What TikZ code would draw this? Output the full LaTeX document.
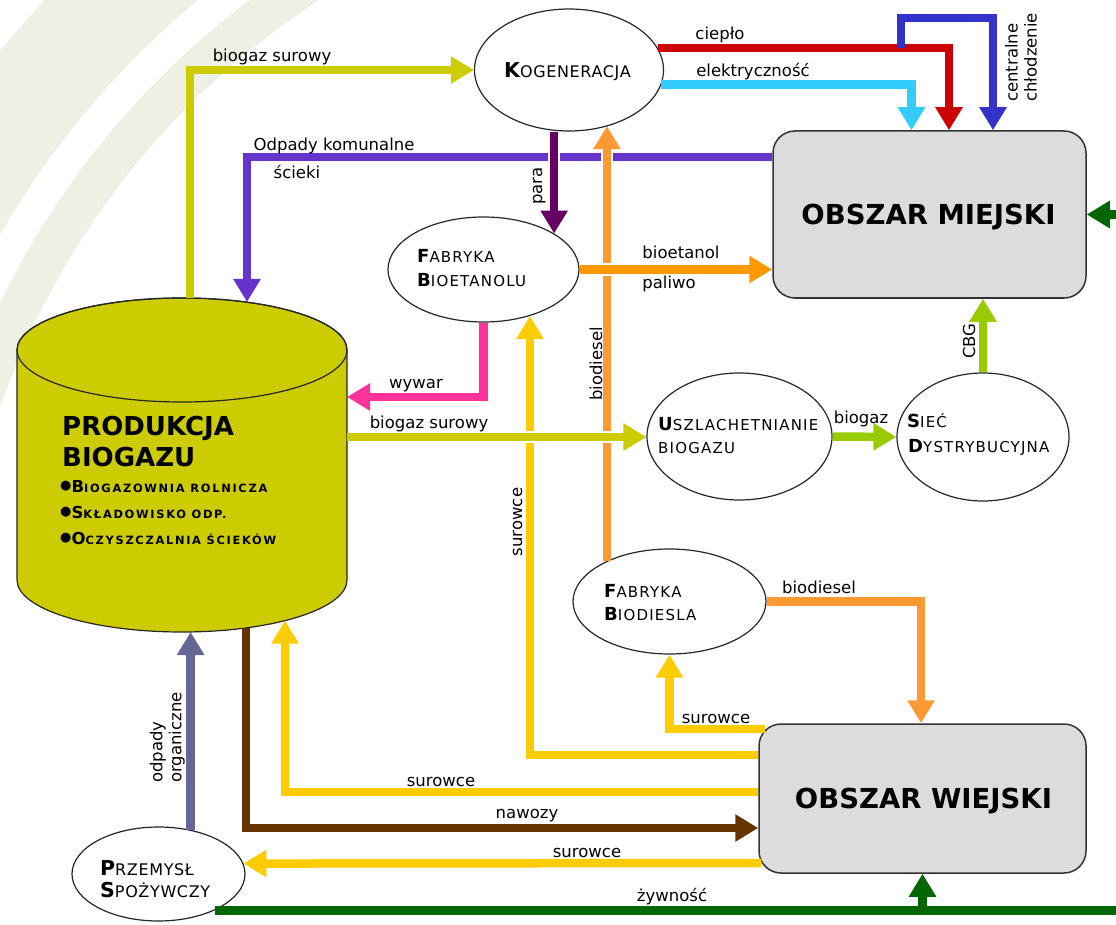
\documentclass[tikz,border=0pt]{standalone}
\usepackage{fontspec}
\setmainfont{DejaVu Sans}
\newfontfamily\spc[LetterSpace=8]{DejaVu Sans}
\newfontfamily\spck[LetterSpace=4]{DejaVu Sans}
\newfontfamily\spcw[LetterSpace=15]{DejaVu Sans}
\usetikzlibrary{arrows.meta,shapes.geometric}
\definecolor{bgc}{RGB}{238,240,228}
\definecolor{olivec}{HTML}{CCCC00}
\definecolor{purplec}{HTML}{6633CC}
\definecolor{redc}{HTML}{CC0000}
\definecolor{skyc}{HTML}{33CCFF}
\definecolor{bluec}{HTML}{3333CC}
\definecolor{parac}{HTML}{660066}
\definecolor{orangeA}{HTML}{FF9933}
\definecolor{orangeB}{HTML}{FF9900}
\definecolor{pinkc}{HTML}{FF3399}
\definecolor{limec}{HTML}{99CC00}
\definecolor{yellowc}{HTML}{FFCC00}
\definecolor{brownc}{HTML}{663300}
\definecolor{slatec}{HTML}{666699}
\definecolor{greenc}{HTML}{006600}
\definecolor{boxc}{HTML}{DCDCDC}
\newcommand\nmA[2]{{\fontsize{18}{20}\selectfont\bfseries #1}{\spc\fontsize{15}{17}\selectfont #2}}
\newcommand\nmB[2]{{\fontsize{20.5}{22}\selectfont\bfseries #1}{\spck\fontsize{16}{18}\selectfont #2}}
\newcommand\nmC[2]{{\fontsize{16.5}{18}\selectfont\bfseries #1}{\spcw\bfseries\fontsize{11.4}{13}\selectfont #2}}
\newcommand\bul{\raisebox{2.5pt}{\fontsize{13}{13}\selectfont ●}}
\tikzset{
  ln/.style={line width=8.5pt},
  arr/.style={line width=8.5pt,-{Triangle[length=23pt,width=26pt]}},
  casing/.style={white,line width=12.5pt},
  ell/.style={ellipse,draw=black!85,line width=1.2pt,fill=white,inner sep=0pt},
  area/.style={draw=black!80,line width=1.5pt,fill=boxc,rounded corners=22pt,inner sep=0pt},
  lbl/.style={font=\fontsize{16.5}{19}\selectfont,inner sep=0pt,anchor=base},
  txt/.style={inner sep=0pt,anchor=base west},
}
\begin{document}
\begin{tikzpicture}[x=1pt,y=-1pt]
\useasboundingbox (0,0) rectangle (1116,925);
% background bands
\begin{scope}
\clip (0,0) rectangle (1116,925);
\fill[bgc,even odd rule] (750,666) circle[radius=970] (750,666) circle[radius=865];
\fill[bgc,even odd rule] (750,666) circle[radius=833] (750,666) circle[radius=793];
\end{scope}

% nodes
\node[ell,minimum width=189pt,minimum height=122pt] (kog) at (569,70) {};
\node[area,minimum width=313pt,minimum height=167pt] (om) at (929.5,214.5) {};
\node[ell,minimum width=191pt,minimum height=105pt] (fbio) at (483.5,269.5) {};
\node[ell,minimum width=185pt,minimum height=127pt] (uszl) at (739.5,436.5) {};
\node[ell,minimum width=172pt,minimum height=128pt] (siec) at (983,437) {};
\node[ell,minimum width=193pt,minimum height=105pt] (fbd) at (669.5,601.5) {};
\node[area,minimum width=327pt,minimum height=149pt] (ow) at (922.5,798.5) {};
\node[ell,minimum width=173pt,minimum height=94pt] (prz) at (158.5,874) {};

% cylinder
\path[fill=olivec,draw=black!85,line width=1.2pt] (17,350) -- (17,580)
  arc[start angle=180,end angle=0,x radius=165,y radius=52] -- (347,350)
  arc[start angle=0,end angle=-180,x radius=165,y radius=52] -- cycle;
\draw[black!85,line width=1.2pt] (182,350) ellipse[x radius=165,y radius=52];
\coordinate (cA) at (190,298.2);
\coordinate (cB) at (247,302);
\coordinate (cW) at (347,397);
\coordinate (cM) at (347,437);
\coordinate (cS) at (285,620.6);
\coordinate (cN) at (246,627.9);
\coordinate (cO) at (190,632);
\coordinate (junc) at (901,48);
\coordinate (zEnd) at (1116,910.5);
\coordinate (gIn) at (1116,214.5);

% connectors
\draw[arr,olivec] (cA) |- (kog.west);
\draw[arr,purplec] ([yshift=57.5pt]om.west) -| (cB);
\draw[arr,redc] (kog.14) -| ([xshift=19.5pt]om.north);
\draw[arr,skyc] (kog.-9.6) -| ([xshift=-18pt]om.north);
\draw[arr,bluec] (junc) -- ++(0,-30) -| ([xshift=63.5pt]om.north);
% crossings over purple
\draw[casing] (fbio.27.4 |- 0,151) -- (fbio.27.4 |- 0,163);
\draw[casing] (fbd.147 |- 0,151) -- (fbd.147 |- 0,163);
\draw[arr,parac] (fbio.27.4 |- kog.south) -- (fbio.27.4);
\draw[arr,orangeA] (fbd.147) -- (fbd.147 |- kog.-55.3);
\draw[arr,yellowc] ([yshift=43.5pt]ow.west) -| (fbio.-45.4);
% crossings under horizontals
\draw[casing] (600,269.5) -- (615,269.5);
\draw[casing] (600,437) -- (615,437);
\draw[casing] (521.5,437) -- (536.5,437);
\draw[arr,orangeB] (fbio.east) -- (fbio.east -| om.west);
\draw[arr,olivec] (cM) -- (cM -| uszl.west);
\draw[arr,pinkc] (fbio.south) |- (cW);
\draw[arr,limec] (uszl.east) -- (siec.west);
\draw[arr,limec] (siec.north) -- (siec.north |- om.south);
\draw[arr,yellowc] ([xshift=7pt,yshift=69.5pt]ow.west) -| (fbd.south);
\draw[arr,orangeA] (fbd.east) -| ([xshift=-1.5pt]ow.north);
\draw[arr,yellowc] ([yshift=6.5pt]ow.west) -| (cS);
\draw[arr,brownc] (cN) |- ([yshift=-29.5pt]ow.west);
\draw[arr,yellowc] ([xshift=3pt,yshift=-64.5pt]ow.west) -- (prz.7.45);
\draw[arr,slatec] (prz.54.3) -- (prz.54.3 |- cO);
\draw[ln,greenc] (zEnd -| prz.-33.8) -- (zEnd);
\draw[arr,greenc] (ow.south |- zEnd) -- (ow.south);
\draw[arr,greenc] (gIn) -- (om.east);

% node texts
\node[txt] (tkog) at (504,78) {\nmB{K}{OGENERACJA}};
\node[txt] (tfb1) at (417,263) {\nmA{F}{ABRYKA}};
\node[txt] (tfb2) at (417,287) {\nmA{B}{IOETANOLU}};
\node[txt] (tus1) at (658,430) {\nmA{U}{SZLACHETNIANIE}};
\node[txt] (tus2) at (658,453) {\nmA{}{BIOGAZU}};
\node[txt] (tsi1) at (907,427) {\nmA{S}{IEĆ}};
\node[txt] (tsi2) at (908,452) {\nmA{D}{YSTRYBUCYJNA}};
\node[txt] (tfd1) at (604,597) {\nmA{F}{ABRYKA}};
\node[txt] (tfd2) at (604,620) {\nmA{B}{IODIESLA}};
\node[txt] (tpr1) at (100,875) {\nmB{P}{RZEMYSŁ}};
\node[txt] (tpr2) at (100,897) {\nmB{S}{POŻYWCZY}};
\node[inner sep=0pt,anchor=base] (tom) at (928.5,225) {\fontsize{27.5}{30}\selectfont\bfseries OBSZAR MIEJSKI};
\node[inner sep=0pt,anchor=base] (tow) at (923.5,808) {\fontsize{27.5}{30}\selectfont\bfseries OBSZAR WIEJSKI};
\node[txt] (tcy1) at (62,435) {\fontsize{26}{28}\selectfont\bfseries PRODUKCJA};
\node[txt] (tcy2) at (62,466) {\fontsize{26}{28}\selectfont\bfseries BIOGAZU};
\node[txt] (tcy3) at (60,492) {\bul\nmC{B}{IOGAZOWNIA ROLNICZA}};
\node[txt] (tcy4) at (60,518) {\bul\nmC{S}{KŁADOWISKO ODP.}};
\node[txt] (tcy5) at (60,544) {\bul\nmC{O}{CZYSZCZALNIA ŚCIEKÓW}};

% labels
\node[lbl] (l1) at (272,62) {biogaz surowy};
\node[lbl] (l2) at (334,151) {Odpady komunalne};
\node[lbl] (l3) at (297,179) {ścieki};
\node[lbl] (l4) at (720,40) {ciepło};
\node[lbl] (l5) at (753,77) {elektryczność};
\node[lbl,rotate=90] (l6) at (542,186) {para};
\node[lbl] (l7) at (681,259) {bioetanol};
\node[lbl] (l8) at (669,288) {paliwo};
\node[lbl] (l9) at (416,388) {wywar};
\node[lbl] (l10) at (429,428) {biogaz surowy};
\node[lbl,rotate=90] (l11) at (602,364) {biodiesel};
\node[lbl,rotate=90] (l12) at (522,522) {surowce};
\node[lbl] (l13) at (861,423.5) {biogaz};
\node[lbl,rotate=90] (l14) at (975,341) {CBG};
\node[lbl,rotate=90,align=left,anchor=south west] (l15) at (1037,102) {centralne\\chłodzenie};
\node[lbl] (l16) at (819,593) {biodiesel};
\node[lbl] (l17) at (716,723) {surowce};
\node[lbl] (l18) at (441,786) {surowce};
\node[lbl] (l19) at (527,818) {nawozy};
\node[lbl] (l20) at (587,857) {surowce};
\node[lbl] (l21) at (672,901) {żywność};
\node[lbl,rotate=90,align=left,anchor=south west] (l22) at (185,783) {odpady\\organiczne};
\end{tikzpicture}
\end{document}
